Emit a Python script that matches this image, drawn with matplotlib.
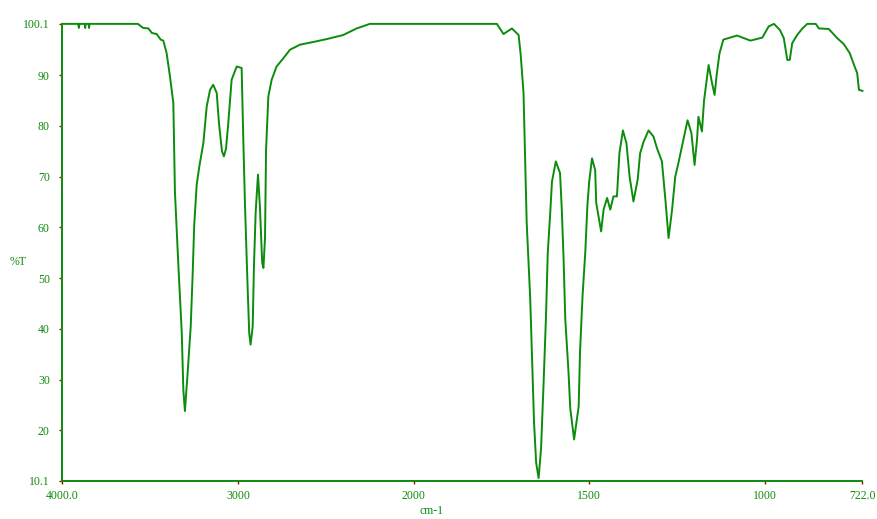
import numpy as np
import matplotlib
matplotlib.use("Agg")
import matplotlib.pyplot as plt

# IR spectrum (cm-1, %T)
wavenumber = [4000, 3910, 3906, 3902, 3873, 3870, 3867, 3851, 3848, 3845, 3570, 3540, 3510, 3490,
              3463, 3440, 3425, 3406, 3387, 3368, 3359, 3340, 3320, 3311, 3302, 3286,
              3269, 3258, 3249, 3235, 3220, 3207, 3197, 3178, 3159, 3141, 3121, 3108,
              3091, 3080, 3068, 3055, 3036, 3007, 2979, 2970, 2960, 2947, 2936, 2928,
              2916, 2909, 2899, 2886, 2875, 2862, 2855, 2846, 2840, 2827, 2808, 2780,
              2742, 2704, 2647, 2562, 2495, 2401, 2324, 2249, 1763, 1744, 1720, 1701,
              1695, 1687, 1682, 1678, 1668, 1662, 1657, 1651, 1644, 1637, 1630, 1623,
              1618, 1611, 1606, 1595, 1583, 1578, 1573, 1568, 1559, 1554, 1543, 1530,
              1526, 1519, 1511, 1505, 1500, 1492, 1483, 1480, 1466, 1459, 1449, 1440,
              1431, 1421, 1414, 1404, 1394, 1385, 1374, 1362, 1355, 1345, 1331, 1317,
              1307, 1293, 1283, 1274, 1264, 1255, 1245, 1236, 1220, 1209, 1200, 1193,
              1189, 1179, 1173, 1160, 1151, 1143, 1137, 1129, 1118, 1079, 1041, 1007,
              989, 974, 957, 946, 936, 929, 922, 908, 893, 879, 855, 846, 818, 794,
              775, 758, 746, 737, 732, 722]
transmittance = [100.1, 100.1, 99.3, 100.1, 100.1, 99.3, 100.1, 100.1, 99.3, 100.1, 100.1, 99.3, 99.2, 98.3,
                 98.1, 97.0, 96.8, 94.3, 89.7, 84.5, 67.1, 53.0, 39.2, 28.0, 23.8, 31.6,
                 40.5, 50.7, 60.5, 68.4, 72.0, 74.6, 76.6, 83.8, 87.1, 88.1, 86.5, 80.5,
                 75.0, 74.0, 75.5, 80.6, 89.1, 91.7, 91.4, 77.9, 64.5, 50.3, 39.2, 36.9,
                 40.5, 52.3, 63.1, 70.4, 64.1, 53.0, 52.0, 57.9, 75.3, 85.8, 89.1, 91.7,
                 93.3, 95.0, 96.0, 96.6, 97.1, 97.9, 99.2, 100.1, 100.1, 98.1, 99.2, 97.9,
                 94.0, 86.5, 72.7, 61.0, 46.1, 32.3, 21.5, 13.6, 10.6, 16.5, 29.0, 42.4,
                 54.9, 62.8, 69.0, 73.0, 70.7, 63.5, 53.9, 41.8, 31.6, 24.4, 18.2, 24.7,
                 35.6, 46.4, 55.3, 64.5, 69.0, 73.6, 71.3, 64.8, 59.2, 63.5, 65.8, 63.5,
                 66.1, 66.1, 74.6, 79.1, 76.6, 70.0, 65.1, 69.4, 74.6, 76.9, 79.1, 77.9,
                 75.6, 73.0, 65.4, 57.9, 63.5, 70.0, 73.0, 75.9, 81.1, 78.6, 72.3, 77.3,
                 81.8, 78.9, 85.0, 92.0, 88.7, 86.1, 90.1, 94.3, 97.0, 97.8, 96.8, 97.4,
                 99.6, 100.1, 98.9, 97.3, 93.0, 93.0, 96.3, 97.9, 99.2, 100.1, 100.1, 99.2,
                 99.1, 97.3, 96.1, 94.3, 92.0, 90.4, 87.1, 86.9]

x_ticks = [4000, 3000, 2000, 1500, 1000, 722]
x_ticklabels = ["4000.0", "3000", "2000", "1500", "1000", "722.0"]
y_ticks = [10.1, 20, 30, 40, 50, 60, 70, 80, 90, 100.1]
y_ticklabels = ["10.1", "20", "30", "40", "50", "60", "70", "80", "90", "100.1"]


# scale change at 2000 cm-1 (below 2000 the axis is stretched x2)
def fwd(x):
    x = np.asarray(x, dtype=float)
    return np.where(x >= 2000, x, 2 * x - 2000)


def inv(u):
    u = np.asarray(u, dtype=float)
    return np.where(u >= 2000, u, (u + 2000) / 2)


green = "#0c8c0c"
plt.rcParams["font.family"] = ["Liberation Serif", "DejaVu Serif"]

fig = plt.figure(figsize=(8.78, 5.19), dpi=100)
ax = fig.add_axes([0.071, 0.074, 0.9113, 0.88])

ax.plot(wavenumber, transmittance, color=green, lw=1.4, clip_on=False)

ax.set_xscale("function", functions=(fwd, inv))
ax.set_xlim(4000, 722)
ax.set_ylim(10.1, 100.1)

ax.set_xticks(x_ticks)
ax.set_xticklabels(x_ticklabels)
ax.set_yticks(y_ticks)
ax.set_yticklabels(y_ticklabels)
ax.minorticks_off()

ax.tick_params(axis="both", length=2, width=1, color="#b00000",
               labelsize=8.5, labelcolor=green, pad=5)
ax.tick_params(axis="y", pad=7)

for s in ["top", "right"]:
    ax.spines[s].set_visible(False)
for s in ["left", "bottom"]:
    ax.spines[s].set_color(green)
    ax.spines[s].set_linewidth(1.4)

fig.text(18 / 878, 1 - 262 / 519, "%T", color=green, fontsize=8.5,
         ha="center", va="center")
fig.text(432 / 878, 1 - 511 / 519, "cm-1", color=green, fontsize=8.5,
         ha="center", va="center")

fig.savefig("out.png", dpi=100)
